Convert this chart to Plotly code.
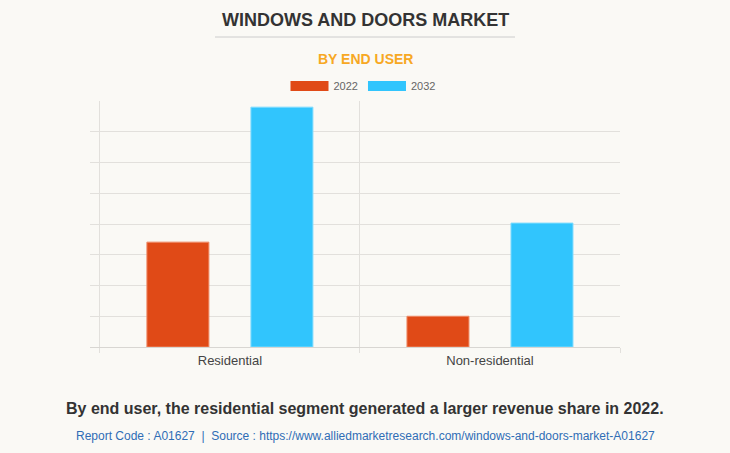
import plotly.graph_objects as go

categories = ["Residential", "Non-residential"]
years = ["2022", "2032"]
values_2022 = [3.41, 1.0]
values_2032 = [7.8, 4.03]
colors = {"2022": "#e04a17", "2032": "#31c5fd"}
edge = {"2022": "#ef8a66", "2032": "#7fdcff"}

FONT = "Liberation Sans, Arial, sans-serif"
BG = "#faf9f5"

fig = go.Figure()
for yr, vals in zip(years, [values_2022, values_2032]):
    fig.add_trace(go.Bar(
        x=categories, y=vals, name=yr, legendgroup=yr, showlegend=False,
        marker=dict(color=colors[yr], line=dict(color=edge[yr], width=1)),
        hoverinfo="x+y+name",
    ))
    # legend swatch proxy
    fig.add_trace(go.Scatter(
        x=[None], y=[None], mode="lines", name=yr, legendgroup=yr,
        line=dict(color=colors[yr], width=13),
    ))

def py(px):
    return (453 - 106 - px) / 246

def px_x(px):
    return (px - 90) / 530

fig.update_layout(
    width=730, height=453,
    paper_bgcolor=BG, plot_bgcolor=BG,
    margin=dict(l=90, r=110, t=101, b=106),
    barmode="group", bargap=0.2, bargroupgap=0.404,
    font=dict(family=FONT, color="#444"),
    showlegend=True,
    legend=dict(orientation="h", x=px_x(363), xanchor="center", y=py(86), yanchor="middle",
                bgcolor="rgba(0,0,0,0)", font=dict(size=11, color="#666"),
                itemwidth=38, itemclick=False, traceorder="normal"),
    xaxis=dict(
        type="category", range=[-0.538, 1.5], tickson="boundaries",
        showgrid=True, gridcolor="#e2e0dc", gridwidth=1,
        ticks="outside", ticklen=5, tickcolor="#e2e0dc",
        showline=False, zeroline=False, ticklabelstandoff=4,
        tickfont=dict(size=13, color="#444"),
    ),
    yaxis=dict(
        range=[0, 8], dtick=1, showticklabels=False,
        showgrid=True, gridcolor="#e2e0dc", gridwidth=1,
        zeroline=True, zerolinecolor="#d8d6d2", zerolinewidth=1,
        showline=False, ticks="",
    ),
    shapes=[dict(type="line", xref="paper", yref="paper",
                 x0=px_x(215), x1=px_x(515), y0=py(37), y1=py(37),
                 line=dict(color="#cccccc", width=1))],
    annotations=[
        dict(text="<b>WINDOWS AND DOORS MARKET</b>", xref="paper", yref="paper",
             x=px_x(365), y=py(20), showarrow=False,
             xanchor="center", yanchor="middle",
             font=dict(size=18, color="#333333", family=FONT)),
        dict(text="<b>BY END USER</b>", xref="paper", yref="paper",
             x=px_x(365), y=py(59), showarrow=False,
             xanchor="center", yanchor="middle",
             font=dict(size=14, color="#f7a823", family=FONT)),
        dict(text="<b>By end user, the residential segment generated a larger revenue share in 2022.</b>",
             xref="paper", yref="paper",
             x=px_x(365), y=py(408), showarrow=False,
             xanchor="center", yanchor="middle",
             font=dict(size=16, color="#333333", family=FONT)),
        dict(text="Report Code : A01627  |  Source : https://www.alliedmarketresearch.com/windows-and-doors-market-A01627",
             xref="paper", yref="paper",
             x=px_x(365), y=py(436), showarrow=False,
             xanchor="center", yanchor="middle",
             font=dict(size=12, color="#2f6db5", family=FONT)),
    ],
)

fig.write_html(
    "out.html",
    config={"displayModeBar": False},
    post_script="document.body.style.margin='0';document.body.style.background='%s';" % BG,
)
